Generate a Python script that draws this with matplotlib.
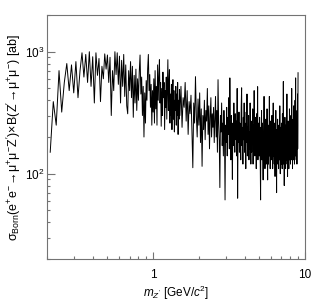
import numpy as np
import matplotlib
matplotlib.use("Agg")
import matplotlib.pyplot as plt

plt.rcParams['font.family'] = ['Liberation Sans', 'DejaVu Sans']
plt.rcParams['mathtext.fontset'] = 'custom'
plt.rcParams['mathtext.rm'] = 'Liberation Sans'
plt.rcParams['mathtext.it'] = 'Liberation Sans:italic'
plt.rcParams['mathtext.sf'] = 'Liberation Sans'

# mass grids (GeV/c^2): fine scan 0.21-1.49 (step 0.01), coarse 1.50-9.00 (step 0.025)
mass_low_start, mass_low_step, n_low = 0.21, 0.01, 129
mass_high_start, mass_high_step, n_high = 1.50, 0.025, 301

# cross section x BF [ab]
xs_low = [
    150, 390, 250, 700, 320, 560, 800, 480, 780, 460,
    830, 420, 700, 980, 620, 950, 560, 1000, 520, 910,
    380, 980, 640, 880, 390, 760, 600, 960, 720, 940,
    560, 900, 300, 700, 480, 1000, 650, 980, 540, 920,
    380, 850, 520, 950, 430, 780, 360, 310, 700, 480,
    830, 420, 760, 290, 640, 380, 720, 330, 600, 400,
    680, 940, 450, 620, 300, 520, 200, 460, 260, 580,
    400, 720, 950, 480, 650, 350, 540, 250, 480, 320,
    600, 260, 700, 340, 520, 250, 780, 400, 620, 860,
    380, 560, 245, 500, 300, 680, 420, 560, 230, 480,
    350, 620, 280, 500, 860, 330, 560, 712, 260, 450,
    300, 540, 230, 420, 590, 280, 480, 220, 400, 330,
    520, 250, 450, 300, 560, 210, 400, 280, 490,
]
xs_high = [
    300, 520, 240, 420, 350, 560, 270, 480, 210, 390,
    310, 440, 230, 112, 380, 260, 625, 300, 200, 410,
    250, 460, 180, 340, 115, 300, 230, 400, 190, 330,
    270, 500, 210, 360, 160, 290, 420, 200, 310, 240,
    350, 180, 280, 430, 200, 330, 150, 590, 260, 190,
    77, 300, 220, 380, 170, 260, 140, 330, 210, 61,
    250, 180, 350, 140, 290, 210, 420, 160, 610, 230,
    130, 300, 200, 90, 260, 170, 380, 220, 150, 310,
    190, 270, 140, 500, 63, 230, 180, 320, 150, 260,
    200, 130, 350, 506, 170, 240, 120, 290, 190, 380,
    150, 260, 200, 110, 320, 180, 450, 140, 240, 170,
    300, 130, 220, 160, 380, 190, 120, 270, 150, 230,
    180, 340, 120, 250, 160, 480, 200, 140, 290, 170,
    230, 110, 310, 150, 200, 517, 130, 260, 180, 220,
    140, 290, 170, 120, 61, 240, 160, 330, 130, 200,
    260, 150, 89, 220, 180, 430, 140, 250, 110, 190,
    160, 280, 120, 210, 150, 340, 130, 89, 230, 170,
    120, 250, 180, 430, 140, 200, 110, 270, 160, 220,
    130, 190, 300, 150, 240, 110, 180, 380, 140, 210,
    160, 120, 260, 170, 95, 220, 150, 330, 130, 190,
    70, 230, 140, 180, 280, 120, 200, 160, 110, 250,
    150, 210, 130, 360, 170, 100, 240, 140, 190, 120,
    260, 150, 200, 110, 310, 170, 130, 230, 570, 160,
    120, 220, 80, 180, 140, 290, 160, 200, 110, 250,
    170, 130, 240, 150, 450, 120, 190, 95, 210, 160,
    270, 140, 180, 110, 230, 160, 340, 130, 200, 150,
    250, 120, 190, 300, 150, 220, 130, 500, 170, 140,
    230, 110, 200, 160, 280, 130, 190, 360, 150, 240,
    180, 120, 260, 170, 400, 140, 210, 610, 150, 190,
    130, 280, 170, 230, 120, 330, 200, 450, 160, 250,
    673,
]

x_ticks = [1, 10]
x_ticklabels = ['1', '10']
y_ticks = [100, 1000]
y_ticklabels = [r'$10^{2}$', r'$10^{3}$']

mass = np.concatenate([
    mass_low_start + mass_low_step * np.arange(n_low),
    mass_high_start + mass_high_step * np.arange(n_high),
])
xs = np.array(xs_low + xs_high, dtype=float)

fig = plt.figure(figsize=(3.15, 3.06), dpi=100)
ax = fig.add_axes([47/315, 1-259/306, (305-47)/315, (259-15)/306])
ax.plot(mass, xs, color='black', lw=0.7)
ax.set_xscale('log')
ax.set_yscale('log')
ax.set_xlim(0.2, 10)
ax.set_ylim(20, 2000)

ax.set_xticks(x_ticks)
ax.set_xticklabels(x_ticklabels)
ax.set_yticks(y_ticks)
ax.set_yticklabels(y_ticklabels)
ax.xaxis.set_minor_formatter(matplotlib.ticker.NullFormatter())
ax.yaxis.set_minor_formatter(matplotlib.ticker.NullFormatter())

for s in ax.spines.values():
    s.set_color('0.45')
    s.set_linewidth(0.8)
ax.tick_params(which='both', direction='in', top=False, right=False,
               colors='0.45', labelcolor='black', labelsize=8.5)
ax.tick_params(axis='x', which='major', length=5, width=0.8, pad=7)
ax.tick_params(axis='x', which='minor', length=2.5, width=0.8)
ax.tick_params(axis='y', which='major', length=5.5, width=0.8, pad=2)
ax.tick_params(axis='y', which='minor', length=2.5, width=0.8)

ax.set_xlabel(r'$m_{Z^{\prime}}$ [GeV/$c^{2}$]', fontsize=8.5, labelpad=2)
ax.set_ylabel(r'$\mathrm{\sigma_{Born}(e^{+}e^{-}\!\rightarrow\!\mu^{+}\mu^{-}Z^{\prime})\!\times\!B(Z^{\prime}\!\rightarrow\!\mu^{+}\mu^{-})}$ [ab]',
              fontsize=9, labelpad=1)

fig.savefig('out.png', dpi=100)
